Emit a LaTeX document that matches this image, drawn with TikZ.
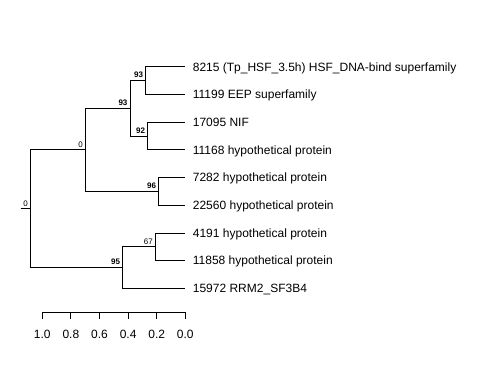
\documentclass[tikz,border=0pt]{standalone}
\usepackage{fontspec}
\setmainfont{Liberation Sans}
\usetikzlibrary{positioning,calc}

\begin{document}
\begin{tikzpicture}[x=1pt,y=-1pt,line width=0.8pt,
  leaf/.style={anchor=base west,inner sep=0pt,xshift=7.5pt,yshift=-4.3pt,font=\fontsize{12}{14}\selectfont},
  boot/.style={anchor=south east,inner sep=2.2pt,font=\fontsize{8}{9}\selectfont\bfseries},
  bootl/.style={anchor=south east,inner sep=2.2pt,font=\fontsize{8}{9}\selectfont},
  tick/.style={anchor=base,inner sep=0pt,font=\fontsize{12}{14}\selectfont}]
\useasboundingbox (0,0) rectangle (480,384);
% leaves
\coordinate (t1) at (185,66.7);
\coordinate (t2) at (185,94.4);
\coordinate (t3) at (185,122.1);
\coordinate (t4) at (185,149.8);
\coordinate (t5) at (185,177.5);
\coordinate (t6) at (185,205.2);
\coordinate (t7) at (185,232.9);
\coordinate (t8) at (185,260.6);
\coordinate (t9) at (185,288.3);
% inner nodes
\coordinate (n12) at (145.7,80.5);
\coordinate (n34) at (147.7,136);
\coordinate (n14) at (130,108.3);
\coordinate (n56) at (158.7,191.4);
\coordinate (n16) at (85.3,149.8);
\coordinate (n78) at (155.3,246.8);
\coordinate (n79) at (122.7,267.5);
\coordinate (root) at (30.3,208.7);
\coordinate (stub) at (20.7,208.7);
% branches
\draw (n12) |- (t1); \draw (n12) |- (t2);
\draw (n34) |- (t3); \draw (n34) |- (t4);
\draw (n14) |- (n12); \draw (n14) |- (n34);
\draw (n56) |- (t5); \draw (n56) |- (t6);
\draw (n16) |- (n14); \draw (n16) |- (n56);
\draw (n78) |- (t7); \draw (n78) |- (t8);
\draw (n79) |- (n78); \draw (n79) |- (t9);
\draw (root) |- (n16); \draw (root) |- (n79);
\draw (stub) -- (root);
% support values
\node[boot] (b12) at (n12) {93};
\node[boot] (b34) at (n34) {92};
\node[boot] (b14) at (n14) {93};
\node[boot] (b56) at (n56) {96};
\node[bootl] (b16) at (n16) {0};
\node[bootl] (b78) at (n78) {67};
\node[boot] (b79) at (n79) {95};
\node[bootl] (broot) at (root) {0};
% tip labels
\node[leaf] (l1) at (t1) {8215 (Tp\_HSF\_3.5h) HSF\_DNA-bind superfamily};
\node[leaf] (l2) at (t2) {11199 EEP superfamily};
\node[leaf] (l3) at (t3) {17095 NIF};
\node[leaf] (l4) at (t4) {11168 hypothetical protein};
\node[leaf] (l5) at (t5) {7282 hypothetical protein};
\node[leaf] (l6) at (t6) {22560 hypothetical protein};
\node[leaf] (l7) at (t7) {4191 hypothetical protein};
\node[leaf] (l8) at (t8) {11858 hypothetical protein};
\node[leaf] (l9) at (t9) {15972 RRM2\_SF3B4};
% scale
\coordinate (s0) at (42.3,312.3);
\coordinate (s1) at (185.3,312.3);
\draw (s0) -- (s1);
\foreach \v [count=\i from 0] in {1.0,0.8,0.6,0.4,0.2,0.0} {
  \coordinate (k\i) at ($(s0)!\i/5!(s1)$);
  \draw (k\i) -- ++(0,7);
  \node[tick] (m\i) at ($(k\i)+(0,26)$) {\v};
}
\end{tikzpicture}
\end{document}
